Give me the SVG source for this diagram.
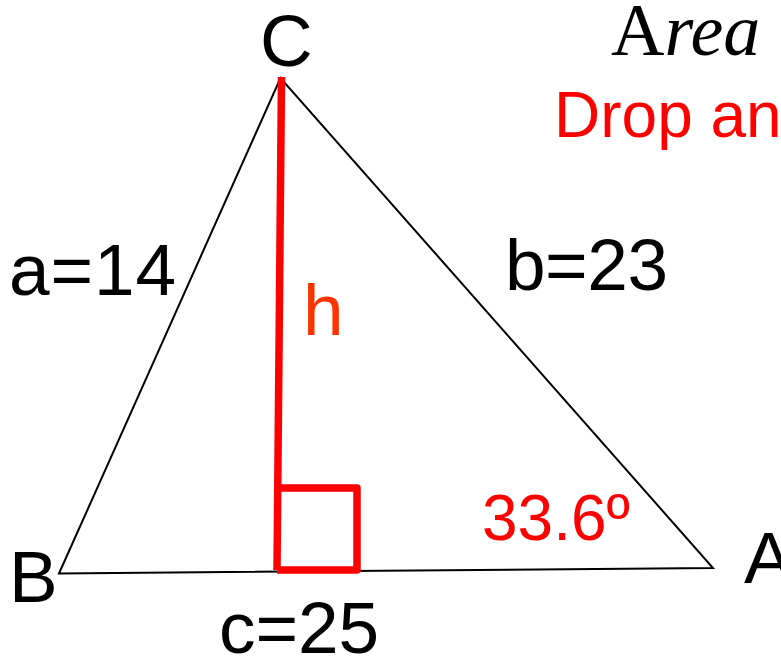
<svg xmlns="http://www.w3.org/2000/svg" width="781" height="658" viewBox="0 0 781 658">
  <style>
    .lbl { font-family: "Liberation Sans", Arial, sans-serif; font-size: 73px; fill: #000; }
    .red { fill: #FF0000; }
    .edge { fill: none; stroke: #000; stroke-width: 2; stroke-linejoin: miter; }
    .alt { fill: none; stroke: #FF0000; stroke-width: 7.5; stroke-linejoin: round; stroke-linecap: butt; }
  </style>
  <rect width="781" height="658" fill="#fff"/>
  <g id="triangle">
    <polygon class="edge" points="59,573.5 280.5,78 713,568"/>
  </g>
  <g id="altitude">
    <line class="alt" x1="281.5" y1="77" x2="277" y2="570"/>
    <polyline class="alt" points="277,488 357,488 357,570 277,570"/>
  </g>
  <g id="vertex-C"><text class="lbl" x="260" y="66">C</text></g>
  <g id="vertex-B"><text class="lbl" x="9" y="602">B</text></g>
  <g id="vertex-A"><text class="lbl" x="744" y="583">A</text></g>
  <g id="side-a"><text class="lbl" x="9" y="295" textLength="167">a=14</text></g>
  <g id="side-b"><text class="lbl" x="505" y="290" textLength="163">b=23</text></g>
  <g id="side-c"><text class="lbl" x="219" y="653" textLength="160">c=25</text></g>
  <g id="height-h"><text class="lbl" x="303" y="335" style="fill:#FF3300">h</text></g>
  <g id="angle-A"><text class="lbl red" x="482" y="540" style="font-size:64px">33.6º</text></g>
  <g id="title">
    <text x="611" y="55" style="font-family:'Liberation Serif','Times New Roman',serif;font-size:74px;fill:#000">A<tspan font-style="italic">rea</tspan></text>
    <text class="lbl red" x="554" y="137" style="font-size:64px">Drop an</text>
  </g>
</svg>
